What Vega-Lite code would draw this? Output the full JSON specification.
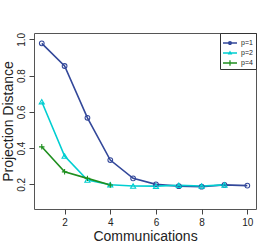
{
  "$schema": "https://vega.github.io/schema/vega-lite/v6.json",
  "width": 222,
  "height": 176,
  "autosize": "none",
  "padding": {"left": 34, "top": 33, "right": 17, "bottom": 42},
  "config": {
    "view": {"stroke": "#555", "strokeWidth": 1},
    "font": "Liberation Sans",
    "axis": {"grid": false, "domain": false, "tickColor": "#444", "tickSize": 5, "labelColor": "#222", "labelFontSize": 10, "labelFont": "Liberation Sans", "titleFont": "Liberation Sans", "titleFontWeight": "normal", "titleFontSize": 14, "titleColor": "#222"}
  },
  "data": {
    "values": [
      {"x": 1, "y": 0.978, "p": "p=1"},
      {"x": 2, "y": 0.853, "p": "p=1"},
      {"x": 3, "y": 0.567, "p": "p=1"},
      {"x": 4, "y": 0.334, "p": "p=1"},
      {"x": 5, "y": 0.233, "p": "p=1"},
      {"x": 6, "y": 0.200, "p": "p=1"},
      {"x": 7, "y": 0.190, "p": "p=1"},
      {"x": 8, "y": 0.187, "p": "p=1"},
      {"x": 9, "y": 0.197, "p": "p=1"},
      {"x": 10, "y": 0.193, "p": "p=1"},
      {"x": 1, "y": 0.656, "p": "p=2"},
      {"x": 2, "y": 0.356, "p": "p=2"},
      {"x": 3, "y": 0.224, "p": "p=2"},
      {"x": 4, "y": 0.198, "p": "p=2"},
      {"x": 5, "y": 0.191, "p": "p=2"},
      {"x": 6, "y": 0.190, "p": "p=2"},
      {"x": 7, "y": 0.195, "p": "p=2"},
      {"x": 8, "y": 0.191, "p": "p=2"},
      {"x": 9, "y": 0.197, "p": "p=2"},
      {"x": 1, "y": 0.407, "p": "p=4"},
      {"x": 2, "y": 0.269, "p": "p=4"},
      {"x": 3, "y": 0.233, "p": "p=4"},
      {"x": 4, "y": 0.196, "p": "p=4"}
    ]
  },
  "encoding": {
    "x": {"field": "x", "type": "quantitative", "title": "Communications",
      "scale": {"domain": [0.66, 10.38], "nice": false, "zero": false},
      "axis": {"values": [2, 4, 6, 8, 10], "labelPadding": 3, "titlePadding": 2}},
    "y": {"field": "y", "type": "quantitative", "title": "Projection Distance",
      "scale": {"domain": [0.064, 1.035], "nice": false, "zero": false},
      "axis": {"values": [0.2, 0.4, 0.6, 0.8, 1.0], "format": ".1f", "labelAngle": -90, "labelAlign": "center", "labelBaseline": "bottom", "labelPadding": 3, "titlePadding": 1}}
  },
  "layer": [
    {
      "mark": {"type": "line", "strokeWidth": 1.6},
      "encoding": {"color": {"field": "p", "type": "nominal", "legend": null,
        "scale": {"domain": ["p=1", "p=2", "p=4"], "range": ["#33489a", "#00ced1", "#1f8f1f"]}}}
    },
    {
      "mark": {"type": "point", "filled": false, "strokeWidth": 1.1, "opacity": 1},
      "encoding": {
        "color": {"field": "p", "type": "nominal", "legend": null,
          "scale": {"domain": ["p=1", "p=2", "p=4"], "range": ["#33489a", "#00ced1", "#1f8f1f"]}},
        "shape": {"field": "p", "type": "nominal", "legend": null,
          "scale": {"domain": ["p=1", "p=2", "p=4"], "range": ["circle", "triangle-up", "M-1,0H1M0,-1V1"]}},
        "size": {"field": "p", "type": "nominal", "legend": null,
          "scale": {"domain": ["p=1", "p=2", "p=4"], "range": [22, 30, 40]}}
      }
    },
    {
      "mark": {"type": "point", "filled": true, "size": 0},
      "encoding": {
        "color": {"field": "p", "type": "nominal",
          "scale": {"domain": ["p=1", "p=2", "p=4"], "range": ["#33489a", "#00ced1", "#1f8f1f"]},
          "legend": {"title": null, "orient": "top-right", "offset": 0, "padding": 3, "strokeColor": "#333", "fillColor": "white", "symbolSize": 196, "symbolStrokeWidth": 0, "symbolOpacity": 1, "labelFontSize": 7, "labelColor": "#222", "labelOffset": 4, "rowPadding": 0}},
        "shape": {"field": "p", "type": "nominal",
          "scale": {"domain": ["p=1", "p=2", "p=4"], "range": [
            "M-1,-0.1H1V0.1H-1Z M0.3,0A0.3,0.3,0,1,1,-0.3,0A0.3,0.3,0,1,1,0.3,0Z",
            "M-1,-0.1H1V0.1H-1Z M0,-0.36L0.33,0.22L-0.33,0.22Z",
            "M-1,-0.1H1V0.1H-1Z M-0.09,-0.4H0.09V0.4H-0.09Z"]},
          "legend": {"title": null, "orient": "top-right", "offset": 0, "padding": 3, "strokeColor": "#333", "fillColor": "white", "symbolSize": 196, "symbolStrokeWidth": 0, "symbolOpacity": 1, "labelFontSize": 7, "labelColor": "#222", "labelOffset": 4, "rowPadding": 0}}
      }
    }
  ],
  "resolve": {"scale": {"color": "independent", "shape": "independent", "size": "independent"}}
}
